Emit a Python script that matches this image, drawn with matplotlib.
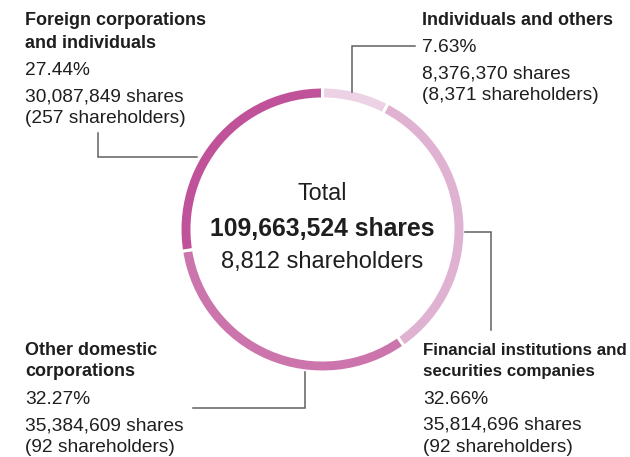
import matplotlib
matplotlib.use("Agg")
import matplotlib.pyplot as plt

# Shareholder composition data
categories = [
    "Individuals and others",
    "Financial institutions and securities companies",
    "Other domestic corporations",
    "Foreign corporations and individuals",
]
shares = [8_376_370, 35_814_696, 35_384_609, 30_087_849]
percents = [7.63, 32.66, 32.27, 27.44]
holders = [8_371, 92, 92, 257]
colors = ["#edd2e5", "#e0b2d2", "#cc75ad", "#c0529a"]

total_shares = 109_663_524
total_holders = 8_812

W, H = 630, 457
fig = plt.figure(figsize=(W / 100, H / 100), dpi=100)
ax = fig.add_axes([0, 0, 1, 1])

def Y(y):
    return H - y

cx, cy, R = 322.5, Y(229.5), 142.5
ax.pie(shares, colors=colors, startangle=90, counterclock=False,
       radius=R, center=(cx, cy),
       wedgeprops=dict(width=12, edgecolor="white", linewidth=2.2))
ax.set_xlim(0, W)
ax.set_ylim(0, H)
ax.set_aspect("equal")
ax.axis("off")

FONT = "Liberation Sans"
TXT = "#1e1e1e"
LINE = "#606060"
BODY = 13.8
HEAD = 13.0

# Center summary
ax.text(cx, Y(200), "Total", ha="center", va="baseline",
        fontsize=16.8, family=FONT, color=TXT)
ax.text(cx, Y(236.5), f"{total_shares:,} shares", ha="center", va="baseline",
        fontsize=17.8, family=FONT, weight="bold", color=TXT)
ax.text(cx, Y(268), f"{total_holders:,} shareholders", ha="center", va="baseline",
        fontsize=17, family=FONT, color=TXT)

def block(x, title_lines, title_ys, i, ys, head=HEAD):
    for t, yy in zip(title_lines, title_ys):
        ax.text(x, Y(yy), t, ha="left", va="baseline", fontsize=head,
                family=FONT, weight="bold", color=TXT)
    lines = [f"{percents[i]:.2f}%", f"{shares[i]:,} shares",
             f"({holders[i]:,} shareholders)"]
    for t, yy in zip(lines, ys):
        ax.text(x, Y(yy), t, ha="left", va="baseline", fontsize=BODY,
                family=FONT, color=TXT)

block(25, ["Foreign corporations", "and individuals"], [25, 47.5], 3, [75, 101, 123])
block(422, ["Individuals and others"], [25], 0, [52, 78.5, 100.5])
block(25, ["Other domestic", "corporations"], [355, 376], 2, [404, 430.5, 451.5])
block(423, ["Financial institutions and", "securities companies"], [355, 376], 1,
      [404.5, 429.5, 452], head=12.15)

# Leader lines
def leader(xs, ys):
    ax.plot(xs, [Y(v) for v in ys], color=LINE, lw=1.1, solid_joinstyle="miter")

leader([352, 352, 415], [92, 46, 46])
leader([98, 98, 197], [133, 157, 157])
leader([465, 491, 491], [232, 232, 330])
leader([193, 305, 305], [408, 408, 372])

fig.savefig("out.png", dpi=100)
